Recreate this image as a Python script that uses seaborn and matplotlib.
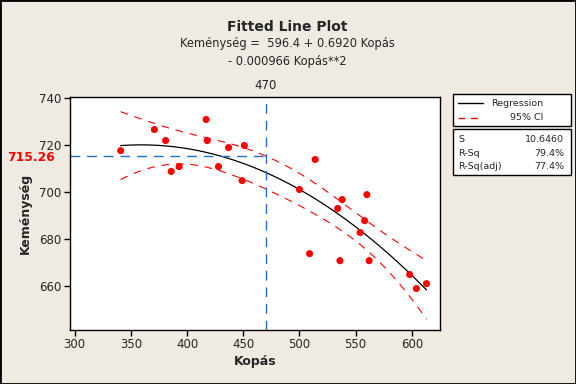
import numpy as np
import seaborn as sns
import matplotlib.pyplot as plt
from matplotlib.patches import Rectangle
from matplotlib.lines import Line2D

# data
kopas = [341, 371, 381, 386, 393, 417, 418, 428, 437, 451, 449, 500,
         514, 509, 538, 534, 536, 560, 558, 554, 562, 598, 604, 613]
kemenyseg = [717.6, 726.6, 721.9, 708.7, 710.8, 730.9, 721.9, 710.8, 718.9, 719.8, 704.8, 701.0,
             713.8, 673.6, 696.7, 692.9, 670.6, 698.8, 687.7, 682.6, 670.6, 664.7, 658.7, 660.8]
ref_x = 470
ref_y = 715.26
stats_names = ["S", "R-Sq", "R-Sq(adj)"]
stats_vals = ["10.6460", "79.4%", "77.4%"]

bg = "#EFEBE2"
sns.set_style("white")
plt.rcParams['font.family'] = ['DejaVu Sans']

fig = plt.figure(figsize=(5.76, 3.84), dpi=100, facecolor=bg)
fig.patches.append(Rectangle((0, 0), 1, 1, transform=fig.transFigure, fill=False,
                             edgecolor="black", linewidth=2))
ax = fig.add_axes([69.5 / 576, 1 - 330 / 384, (440 - 69.5) / 576, (330 - 97) / 384])

# quadratic fit and 95% CI for the mean
x = np.array(kopas, float)
y = np.array(kemenyseg, float)
X = np.column_stack([np.ones_like(x), x, x ** 2])
beta, *_ = np.linalg.lstsq(X, y, rcond=None)
resid = y - X @ beta
n, p = X.shape
s = np.sqrt(resid @ resid / (n - p))
xx = np.linspace(x.min(), x.max(), 200)
XX = np.column_stack([np.ones_like(xx), xx, xx ** 2])
fit = XX @ beta
cov = np.linalg.inv(X.T @ X)
se = s * np.sqrt(np.einsum("ij,jk,ik->i", XX, cov, XX))
t = 2.080  # t(0.975, 21)

sns.lineplot(x=xx, y=fit, ax=ax, color="black", linewidth=0.9)
for band in (fit + t * se, fit - t * se):
    sns.lineplot(x=xx, y=band, ax=ax, color="red", linewidth=0.8)
    ax.lines[-1].set_dashes((7, 6))
sns.scatterplot(x=kopas, y=kemenyseg, ax=ax, color="red", s=26, edgecolor="none", zorder=3)

ax.axvline(ref_x, color="#1f6fd0", linewidth=1, dashes=(7, 5))
ax.axhline(ref_y, color="#1f6fd0", linewidth=1, dashes=(7, 5), xmax=(ref_x - 295.5) / (625 - 295.5))

ax.set_xlim(295.5, 625)
ax.set_ylim(641, 740.5)
ax.set_xticks([300, 350, 400, 450, 500, 550, 600])
ax.set_yticks([660, 680, 700, 720, 740])
ax.tick_params(axis="both", direction="out", length=4, width=1, labelsize=8.5, color="black", pad=2,
               left=True, bottom=True)
for sp in ax.spines.values():
    sp.set_color("black")
    sp.set_linewidth(1)
ax.set_xlabel("Kopás", fontsize=9, fontweight="bold", labelpad=3)
ax.set_ylabel("Keménység", fontsize=9, fontweight="bold", labelpad=5)

ax.text(ref_x, 1.02, "470", transform=ax.get_xaxis_transform(), ha="center", va="bottom", fontsize=8.5)
fig.text(31 / 576, 1 - 158 / 384, "715.26", ha="center", va="center",
         fontsize=8.8, fontweight="bold", color="red")

cx = 287 / 576
fig.text(cx, 1 - 27 / 384, "Fitted Line Plot", ha="center", va="center",
         fontsize=10, fontweight="bold")
fig.text(cx, 1 - 44 / 384, "Keménység =  596.4 + 0.6920 Kopás",
         ha="center", va="center", fontsize=8.3)
fig.text(cx, 1 - 61 / 384, "- 0.000966 Kopás**2",
         ha="center", va="center", fontsize=8.3)

# legend box
lx0, lx1 = 453 / 576, 571 / 576
fig.patches.append(Rectangle((lx0, 1 - 126 / 384), lx1 - lx0, 32 / 384, transform=fig.transFigure,
                             facecolor="white", edgecolor="black", linewidth=1))
fig.lines.append(Line2D([458 / 576, 483 / 576], [1 - 103 / 384] * 2, transform=fig.transFigure,
                        color="black", linewidth=1))
fig.lines.append(Line2D([458 / 576, 483 / 576], [1 - 118 / 384] * 2, transform=fig.transFigure,
                        color="red", linewidth=1, dashes=(5, 4)))
fig.text(543 / 576, 1 - 103 / 384, "Regression", ha="right", va="center", fontsize=6.8)
fig.text(543 / 576, 1 - 118 / 384, "95% CI", ha="right", va="center", fontsize=6.8)

fig.patches.append(Rectangle((lx0, 1 - 175 / 384), lx1 - lx0, 46 / 384, transform=fig.transFigure,
                             facecolor="white", edgecolor="black", linewidth=1))
for i, (nm, vl) in enumerate(zip(stats_names, stats_vals)):
    yy = 1 - (140 + 13 * i) / 384
    fig.text(458 / 576, yy, nm, ha="left", va="center", fontsize=6.8)
    fig.text(564 / 576, yy, vl, ha="right", va="center", fontsize=6.8)

fig.savefig("out.png", dpi=100, facecolor=bg)
